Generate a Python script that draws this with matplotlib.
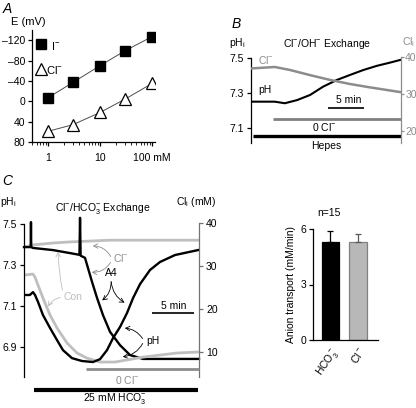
import matplotlib
matplotlib.use('Agg')
import matplotlib.pyplot as plt

plt.rcParams['font.family'] = ['Liberation Sans', 'DejaVu Sans']
plt.rcParams['font.size'] = 7.5
plt.rcParams['mathtext.fontset'] = 'custom'
plt.rcParams['mathtext.rm'] = 'Liberation Sans'
plt.rcParams['mathtext.it'] = 'Liberation Sans:italic'
plt.rcParams['mathtext.default'] = 'regular'
plt.rcParams['axes.linewidth'] = 0.9
for k in ('xtick', 'ytick'):
    plt.rcParams[k + '.major.size'] = 3
    plt.rcParams[k + '.major.width'] = 0.9
    plt.rcParams[k + '.minor.size'] = 1.8
    plt.rcParams[k + '.minor.width'] = 0.6
    plt.rcParams[k + '.major.pad'] = 2

# ---- A: reversal potential vs anion concentration
conc_mM = [1, 3, 10, 30, 100]
e_iodide = [-7, -37, -70, -99, -127]
e_chloride = [59, 46, 22, -4, -35]

# ---- B: Cl-/OH- exchange in Hepes (time in min)
b_t_ph = [0, 3.3, 4.7, 6.4, 8.2, 10.0, 11.9, 13.75, 15.6, 17.5, 19.3, 20.7]
b_ph = [7.250, 7.250, 7.241, 7.259, 7.288, 7.335, 7.373, 7.402, 7.430, 7.454, 7.472, 7.487]
b_t_cl = [0, 3.3, 5.4, 8.2, 11.0, 13.75, 16.5, 20.8]
b_cl = [36.9, 37.3, 36.5, 35.1, 33.8, 32.7, 31.8, 30.5]
b_zero_cl = (3.06, 20.83)
b_hepes = (0.28, 20.83)

# ---- C: Cl-/HCO3- exchange (time in min)
c_t_ph_a4 = [0, 0.7, 1.07, 1.31, 1.67, 2.26, 3.1, 3.93, 4.64, 5.71, 6.9, 8.21,
             9.05, 9.88, 10.6, 11.43, 12.26, 12.98, 13.81, 15.0, 16.19, 17.98, 20.71]
c_ph_a4 = [7.154, 7.154, 7.168, 7.154, 7.120, 7.056, 6.993, 6.934, 6.885, 6.846, 6.832, 6.827,
           6.841, 6.885, 6.944, 6.998, 7.066, 7.139, 7.207, 7.276, 7.315, 7.349, 7.373]
c_t_ph_con = [0, 1.07, 1.31, 1.67, 2.26, 3.1, 3.93, 5.12, 6.31, 7.5, 9.05, 10.83, 14.17, 18.21, 20.83]
c_ph_con = [7.251, 7.256, 7.241, 7.202, 7.139, 7.056, 6.993, 6.920, 6.871, 6.846, 6.827, 6.827,
            6.851, 6.871, 6.876]
c_t_cl_a4 = [0, 0.8, 0.83, 0.86, 1.07, 3.45, 5.48, 6.6, 6.67, 6.74, 7.26, 7.62, 8.10, 8.69,
             9.40, 10.24, 11.43, 12.62, 14.17, 16.19, 20.83]
c_cl_a4 = [34.4, 34.4, 40.2, 34.4, 34.2, 33.7, 33.0, 32.6, 41.2, 32.4, 31.9, 29.5, 26.3, 22.6,
           18.6, 14.7, 11.6, 9.3, 8.4, 8.4, 8.4]
c_t_cl_con = [0, 1.07, 3.45, 5.48, 10.24, 20.83]
c_cl_con = [34.4, 34.9, 35.35, 35.6, 36.0, 36.0]
c_zero_cl = (7.38, 20.83)
c_hco3 = (1.19, 20.7)

# ---- D: anion transport rates
anions = ['HCO$_3^-$', 'Cl$^-$']
transport = [5.3, 5.28]
transport_sem = [0.59, 0.45]
n_cells = 15

W, H = 416, 408
fig = plt.figure(figsize=(W / 100, H / 100), dpi=100)


def box(l, t, r, b):
    return [l / W, 1 - b / H, (r - l) / W, (b - t) / H]


def P(x, y):
    return (x / W, 1 - y / H)


def ftext(x, y, s, **kw):
    kw.setdefault('va', 'center')
    kw.setdefault('ha', 'center')
    fig.text(x / W, 1 - y / H, s, **kw)


def arrow(x0, y0, x1, y1, color='k', rad=0.3):
    fig.add_artist(matplotlib.patches.FancyArrowPatch(
        P(x0, y0), P(x1, y1), transform=fig.transFigure, arrowstyle='->,head_length=3,head_width=1.6',
        color=color, lw=0.6, connectionstyle='arc3,rad=%s' % rad))


# ================= A
ax_a = fig.add_axes(box(32, 30, 155, 142))
ax_a.plot(conc_mM, e_iodide, color='0.3', lw=0.7, marker='s', ms=6.5, mfc='k', mec='k')
ax_a.plot(conc_mM, e_chloride, color='0.3', lw=0.7, marker='^', ms=8, mfc='w', mec='k', mew=0.9)
ax_a.set_xscale('log')
ax_a.set_xlim(0.49, 114)
ax_a.set_ylim(80, -140)
ax_a.set_yticks([-120, -80, -40, 0, 40, 80])
ax_a.set_yticklabels(['\u2013120', '\u201380', '\u201340', '0', '40', '80'])
ax_a.set_xticks([1, 10, 100])
ax_a.set_xticklabels(['1', '10', '100 mM'])
ax_a.tick_params(axis='x', which='major', pad=5)
for s in ('top', 'right'):
    ax_a.spines[s].set_visible(False)
ax_a.plot([0.075], [0.877], transform=ax_a.transAxes, marker='s', ms=6.5, color='k', clip_on=False)
ax_a.plot([0.075], [0.653], transform=ax_a.transAxes, marker='^', ms=8, mfc='w', mec='k', mew=0.9,
          clip_on=False)
ftext(3, 9, 'A', ha='left', style='italic', fontsize=10)
ftext(11, 22, 'E (mV)', ha='left', fontsize=8)
ftext(51, 46, 'I$^{-}$', ha='left', fontsize=8)
ftext(46, 70, 'Cl$^{-}$', ha='left', fontsize=8)

# ================= B
ax_b = fig.add_axes(box(251, 57, 401, 143))
ax_b2 = ax_b.twinx()
ax_b.plot(b_t_ph, b_ph, color='k', lw=1.5)
ax_b2.plot(b_t_cl, b_cl, color='0.55', lw=1.8)
ax_b.set_xlim(0, 20.83)
ax_b.set_ylim(7.015, 7.504)
ax_b2.set_ylim(16.76, 40.0)
ax_b.set_yticks([7.1, 7.3, 7.5])
ax_b.set_yticklabels(['7.1', '7.3', '7.5'])
ax_b2.set_yticks([20, 30, 40])
ax_b.set_xticks([])
for a in (ax_b, ax_b2):
    for s in ('top', 'bottom'):
        a.spines[s].set_visible(False)
ax_b.spines['right'].set_visible(False)
ax_b2.spines['left'].set_visible(False)
ax_b.spines['left'].set_bounds(7.015, 7.5)
ax_b2.spines['right'].set_color('0.55')
ax_b2.tick_params(axis='y', colors='0.55', length=2, pad=1)
ax_b.plot(b_zero_cl, [7.151, 7.151], color='0.5', lw=2, clip_on=False, solid_capstyle='butt')
ax_b.plot(b_hepes, [7.055, 7.055], color='k', lw=2.4, clip_on=False, solid_capstyle='butt')
ax_b.plot([10.7, 15.7], [7.214, 7.214], color='k', lw=1.2, solid_capstyle='butt')
ftext(232, 24, 'B', ha='left', style='italic', fontsize=10)
ftext(229, 43, 'pH$_i$', ha='left')
ftext(327, 44, 'Cl$^{-}$/OH$^{-}$ Exchange')
ftext(402, 42, 'Cl$_i$', ha='left', color='0.55')
ftext(258, 60, 'Cl$^{-}$', ha='left', color='0.55')
ftext(258, 90, 'pH', ha='left')
ftext(349, 100, '5 min')
ftext(324, 127, '0 Cl$^{-}$')
ftext(326, 146, 'Hepes')

# ================= C
ax_c = fig.add_axes(box(24, 222, 199, 377))
ax_c2 = ax_c.twinx()
ax_c2.plot(c_t_cl_con, c_cl_con, color='0.75', lw=2.0)
ax_c.plot(c_t_ph_con, c_ph_con, color='0.75', lw=2.0)
ax_c.set_zorder(ax_c2.get_zorder() + 1)
ax_c.patch.set_visible(False)
ax_c.plot(c_t_ph_a4, c_ph_a4, color='k', lw=1.7)
ax_c2.plot(c_t_cl_a4, c_cl_a4, color='k', lw=1.7, clip_on=False)
ax_c.set_xlim(0, 20.83)
ax_c.set_ylim(6.754, 7.51)
ax_c2.set_ylim(4.2, 40.23)
ax_c.set_yticks([6.9, 7.1, 7.3, 7.5])
ax_c.set_yticklabels(['6.9', '7.1', '7.3', '7.5'])
ax_c2.set_yticks([10, 20, 30, 40])
ax_c.set_xticks([])
for a in (ax_c, ax_c2):
    for s in ('top', 'bottom'):
        a.spines[s].set_visible(False)
ax_c.spines['right'].set_visible(False)
ax_c2.spines['left'].set_visible(False)
ax_c.spines['left'].set_bounds(6.754, 7.5)
ax_c2.spines['right'].set_bounds(4.2, 40)
ax_c2.spines['right'].set_color('0.45')
ax_c2.tick_params(axis='y', color='0.45')
ax_c.plot(c_zero_cl, [6.793, 6.793], color='0.55', lw=2, clip_on=False, solid_capstyle='butt')
ax_c.plot(c_hco3, [6.690, 6.690], color='k', lw=3, clip_on=False, solid_capstyle='butt')
ax_c.plot([15.24, 20.24], [7.066, 7.066], color='k', lw=1.2, solid_capstyle='butt')
ftext(2, 181, 'C', ha='left', style='italic', fontsize=10)
ftext(0, 202, 'pH$_i$', ha='left')
ftext(196, 202, 'Cl$_i$ (mM)')
ftext(103, 209, 'Cl$^{-}$/HCO$_3^{-}$ Exchange')
ftext(174, 306, '5 min')
ftext(127, 380, '0 Cl$^{-}$', color='0.55')
ftext(115, 399, '25 mM HCO$_3^{-}$')

ftext(113, 258, 'Cl$^{-}$', ha='left', color='0.55')
arrow(112, 259, 90, 246, color='0.55', rad=0.35)
arrow(112, 260, 89, 272, color='0.55', rad=-0.35)
ftext(111, 273, 'A4')
arrow(111, 279, 100, 302, rad=-0.3)
arrow(111, 279, 127, 304, rad=0.3)
ftext(146, 341, 'pH', ha='left')
arrow(144, 341, 122, 328, rad=0.3)
arrow(144, 341, 120, 357, rad=-0.3)
ftext(64, 297, 'Con', ha='left', color='0.75')
arrow(63, 297, 47, 309, color='0.75', rad=0.3)
arrow(63, 293, 58, 249, color='0.75', rad=-0.05)

# ================= D
ax_d = fig.add_axes(box(313, 229, 378, 340))
ax_d.bar([0, 1], transport, width=0.62, color=['k', '0.72'], edgecolor=['k', '0.5'], lw=0.9)
for i, ec in enumerate(['k', '0.35']):
    ax_d.errorbar([i], [transport[i]], yerr=[[0], [transport_sem[i]]], fmt='none', ecolor=ec,
                  elinewidth=0.9, capsize=2.5, capthick=0.9)
ax_d.set_xlim(-0.636, 1.727)
ax_d.set_ylim(0, 6)
ax_d.set_yticks([0, 3, 6])
ax_d.set_xticks([0, 1])
ax_d.set_xticklabels(anions, rotation=55, ha='right', rotation_mode='anchor')
ax_d.tick_params(axis='x', length=0, pad=4)
for s in ('top', 'right'):
    ax_d.spines[s].set_visible(False)
ax_d.set_ylabel('Anion transport (mM/min)', labelpad=3)
ftext(329, 213, 'n=%d' % n_cells)

fig.savefig('out.png', dpi=100)
